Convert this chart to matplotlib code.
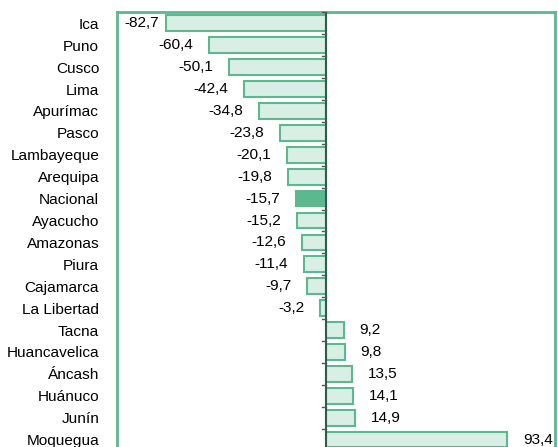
import matplotlib
matplotlib.use("Agg")
import matplotlib.pyplot as plt

plt.rcParams['font.family'] = ['Liberation Sans', 'DejaVu Sans']

# datos (variacion %)
regiones = ['Ica', 'Puno', 'Cusco', 'Lima', 'Apurímac', 'Pasco', 'Lambayeque',
            'Arequipa', 'Nacional', 'Ayacucho', 'Amazonas', 'Piura', 'Cajamarca',
            'La Libertad', 'Tacna', 'Huancavelica', 'Áncash', 'Huánuco', 'Junín',
            'Moquegua']
valores = [-82.7, -60.4, -50.1, -42.4, -34.8, -23.8, -20.1, -19.8, -15.7, -15.2,
           -12.6, -11.4, -9.7, -3.2, 9.2, 9.8, 13.5, 14.1, 14.9, 93.4]
etiquetas = ['-82,7', '-60,4', '-50,1', '-42,4', '-34,8', '-23,8', '-20,1',
             '-19,8', '-15,7', '-15,2', '-12,6', '-11,4', '-9,7', '-3,2', '9,2',
             '9,8', '13,5', '14,1', '14,9', '93,4']

verde = '#5cb88f'
claro = '#d9efe5'
oscuro = '#2d5e4b'
fs = 11.1

fig = plt.figure(figsize=(5.58, 4.47), dpi=100)
ax = fig.add_axes([0.2088, -0.0078, 0.786, 0.980])

n = len(regiones)
pos = list(range(n))
colores = [verde if r == 'Nacional' else claro for r in regiones]
ax.barh(pos, valores, height=0.72, color=colores, edgecolor=verde, linewidth=1.5)

xmin, xmax = -108, 118
ax.set_xlim(xmin, xmax)
ax.set_ylim(n - 0.5, -0.5)

# eje cero y marcas
ax.axvline(0, color=oscuro, lw=1.5, zorder=3)
for i in range(n + 1):
    ax.plot([-2.2, 0], [i - 0.5, i - 0.5], color='#555555', lw=1, zorder=3,
            clip_on=False)

# etiquetas de valores
desp = 8
for i, (v, t) in enumerate(zip(valores, etiquetas)):
    if v < 0:
        x = v - desp
        if x - 18 < xmin:
            ax.text(xmin + 4.3, i, t, ha='left', va='center', fontsize=fs)
        else:
            ax.text(x, i, t, ha='right', va='center', fontsize=fs)
    else:
        ax.text(v + desp, i, t, ha='left', va='center', fontsize=fs)

ax.set_yticks(pos)
ax.set_yticklabels(regiones, fontsize=fs)
ax.tick_params(axis='y', length=0, pad=12.5)
ax.set_xticks([])

for s in ax.spines.values():
    s.set_color(verde)
    s.set_linewidth(2)

fig.savefig('out.png', dpi=100)
